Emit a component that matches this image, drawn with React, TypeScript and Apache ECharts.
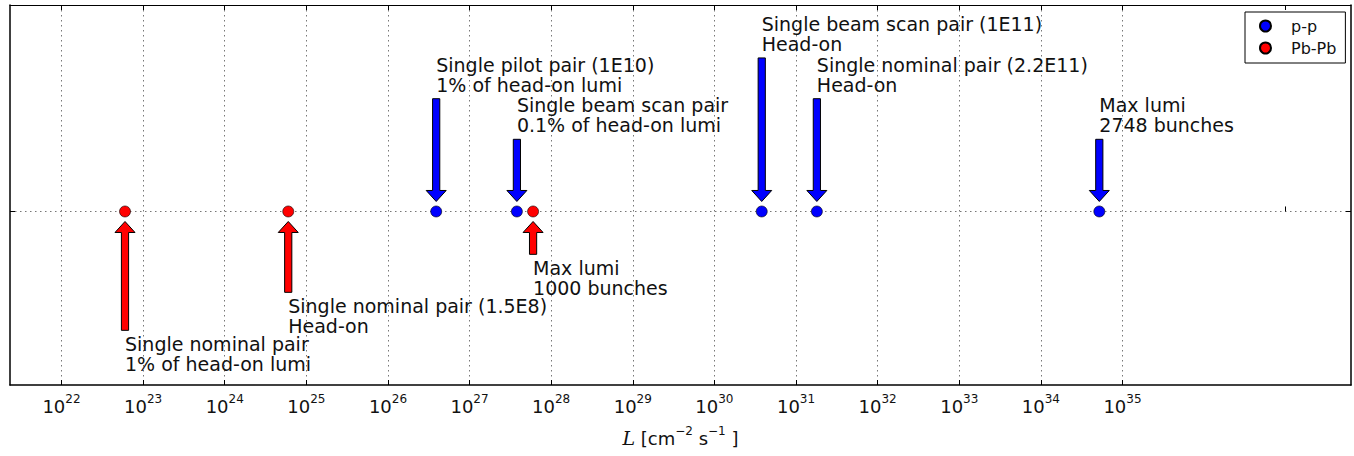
import React, { useEffect, useRef } from "react";
import * as echarts from "echarts";

// ---- data ----
const ppName = "p-p";
const pbName = "Pb-Pb";
const ppLumi = [3.9e26, 3.8e27, 3.8e30, 1.8e31, 5.2e34];
const ppLabels = [
  "Single pilot pair (1E10)\n1% of head-on lumi",
  "Single beam scan pair\n0.1% of head-on lumi",
  "Single beam scan pair (1E11)\nHead-on",
  "Single nominal pair (2.2E11)\nHead-on",
  "Max lumi\n2748 bunches",
];
const ppLabelY = [0.65, 0.416, 0.885, 0.65, 0.416];
const pbLumi = [6e22, 6e24, 6e27];
const pbLabels = [
  "Single nominal pair\n1% of head-on lumi",
  "Single nominal pair (1.5E8)\nHead-on",
  "Max lumi\n1000 bunches",
];
const pbLabelY = [-0.685, -0.466, -0.247];
const tickExponents = [22, 23, 24, 25, 26, 27, 28, 29, 30, 31, 32, 33, 34, 35];
const extraTickExponents = [37];

const FONT = "DejaVu Sans";
const xMin = Math.pow(10, 21.369);
const xMax = Math.pow(10, 37.8);
const yMin = -1;
const yMax = 1.19;

const tickValues = tickExponents.map((e) => Math.pow(10, e));
const extraTickValues = extraTickExponents.map((e) => Math.pow(10, e));

function makeArrowRenderer(labels: string[], color: string) {
  return (params: any, api: any) => {
    const lx = api.value(0);
    const ly = api.value(1);
    const pPoint = api.coord([lx, 0]);
    const pTail = api.coord([lx, ly]);
    const cx = pPoint[0];
    const dir = ly > 0 ? 1 : -1; // 1: text above, arrow points down
    const tip = pPoint[1] - dir * 10;
    const tail = pTail[1];
    const sw = 3.6;
    const hw = 10;
    const hl = 11;
    const hb = tip - dir * hl;
    const pts = [
      [cx - sw, tail],
      [cx + sw, tail],
      [cx + sw, hb],
      [cx + hw, hb],
      [cx, tip],
      [cx - hw, hb],
      [cx - sw, hb],
    ];
    return {
      type: "group",
      children: [
        {
          type: "polygon",
          shape: { points: pts },
          style: { fill: color, stroke: "#000", lineWidth: 1 },
        },
        {
          type: "text",
          x: cx,
          y: tail - dir * 4,
          style: {
            text: labels[params.dataIndex],
            fill: "#111",
            fontSize: 19,
            fontFamily: FONT,
            lineHeight: 20,
            align: "left",
            verticalAlign: dir > 0 ? "bottom" : "top",
          },
        },
      ],
    };
  };
}

export default function App() {
  const ref = useRef<HTMLDivElement>(null);
  useEffect(() => {
    document.body.style.margin = "0";
    const chart = echarts.init(ref.current!, null, { renderer: "svg" });
    const dotted = { color: "#777", width: 1, type: [1.5, 3.5] as any };
    const baseX = {
      type: "log" as const,
      logBase: 10,
      min: xMin,
      max: xMax,
    };
    chart.setOption({
      animation: false,
      backgroundColor: "#fff",
      grid: { left: 10, top: 5, right: 3, bottom: 63, containLabel: false },
      legend: {
        data: [ppName, pbName],
        orient: "vertical",
        left: 1245,
        top: 12,
        icon: "circle",
        itemWidth: 11,
        itemHeight: 11,
        itemGap: 6,
        padding: [6, 9, 7, 14],
        borderColor: "#000",
        borderWidth: 1,
        borderRadius: 0,
        backgroundColor: "#fff",
        textStyle: {
          fontFamily: FONT,
          fontSize: 16,
          color: "#111",
          padding: [0, 0, 0, 15],
        },
      },
      xAxis: [
        {
          ...baseX,
          position: "bottom",
          axisLine: { show: true, onZero: false, lineStyle: { color: "#000", width: 1.5 } },
          axisTick: { show: true, inside: true, length: 5, customValues: tickValues, lineStyle: { color: "#000" } },
          axisLabel: {
            show: true,
            customValues: tickValues,
            margin: 8,
            color: "#111",
            fontFamily: FONT,
            fontSize: 18,
            lineHeight: 26,
            formatter: (v: number) => "10{sup|" + Math.round(Math.log10(v)) + "}",
            rich: {
              sup: { fontSize: 12, fontFamily: FONT, color: "#111", verticalAlign: "top", lineHeight: 15 },
            },
          },
          splitLine: { show: true, lineStyle: dotted },
          name: "{it|L} [cm{sup|−2} s{sup|−1} ]",
          nameLocation: "middle",
          nameGap: 40,
          nameTextStyle: {
            fontFamily: FONT,
            fontSize: 18,
            color: "#111",
            lineHeight: 26,
            rich: {
              it: { fontFamily: "DejaVu Serif", fontStyle: "italic", fontSize: 19, color: "#111" },
              sup: { fontSize: 12, fontFamily: FONT, color: "#111", verticalAlign: "top", lineHeight: 15 },
            },
          },
        },
        {
          ...baseX,
          position: "top",
          axisLine: { show: true, onZero: false, lineStyle: { color: "#000", width: 1 } },
          axisTick: {
            show: true,
            inside: true,
            length: 5,
            customValues: tickValues.concat(extraTickValues),
            lineStyle: { color: "#000" },
          },
          axisLabel: { show: false },
          splitLine: { show: false },
        },
        {
          ...baseX,
          position: "bottom",
          axisLine: { show: false },
          axisTick: { show: true, inside: true, length: 5, customValues: extraTickValues, lineStyle: { color: "#000" } },
          axisLabel: { show: false },
          splitLine: { show: false },
        },
      ],
      yAxis: [
        {
          type: "value",
          min: yMin,
          max: yMax,
          position: "left",
          axisLine: { show: true, onZero: false, lineStyle: { color: "#000", width: 1.5 } },
          axisTick: { show: true, inside: true, length: 5, customValues: [0], lineStyle: { color: "#000" } },
          axisLabel: { show: false },
          splitLine: { show: true, lineStyle: dotted },
        },
        {
          type: "value",
          min: yMin,
          max: yMax,
          position: "right",
          axisLine: { show: true, onZero: false, lineStyle: { color: "#000", width: 1.5 } },
          axisTick: { show: true, inside: true, length: 5, customValues: [0], lineStyle: { color: "#000" } },
          axisLabel: { show: false },
          splitLine: { show: false },
        },
      ],
      series: [
        {
          name: ppName,
          type: "scatter",
          symbol: "circle",
          symbolSize: 11,
          itemStyle: { color: "#0000ff", borderColor: "#000", borderWidth: 0.6, opacity: 1 },
          data: ppLumi.map((v) => [v, 0]),
          z: 3,
        },
        {
          name: pbName,
          type: "scatter",
          symbol: "circle",
          symbolSize: 11,
          itemStyle: { color: "#ff0000", borderColor: "#000", borderWidth: 0.6, opacity: 1 },
          data: pbLumi.map((v) => [v, 0]),
          z: 3,
        },
        {
          name: "pp-annotations",
          type: "custom",
          renderItem: makeArrowRenderer(ppLabels, "#0000ff"),
          encode: { x: 0, y: 1 },
          data: ppLumi.map((v, i) => [v, ppLabelY[i]]),
          clip: false,
          z: 4,
        },
        {
          name: "pb-annotations",
          type: "custom",
          renderItem: makeArrowRenderer(pbLabels, "#ff0000"),
          encode: { x: 0, y: 1 },
          data: pbLumi.map((v, i) => [v, pbLabelY[i]]),
          clip: false,
          z: 4,
        },
      ],
    });
    return () => chart.dispose();
  }, []);
  return <div ref={ref} style={{ width: 1354, height: 456 }} />;
}
